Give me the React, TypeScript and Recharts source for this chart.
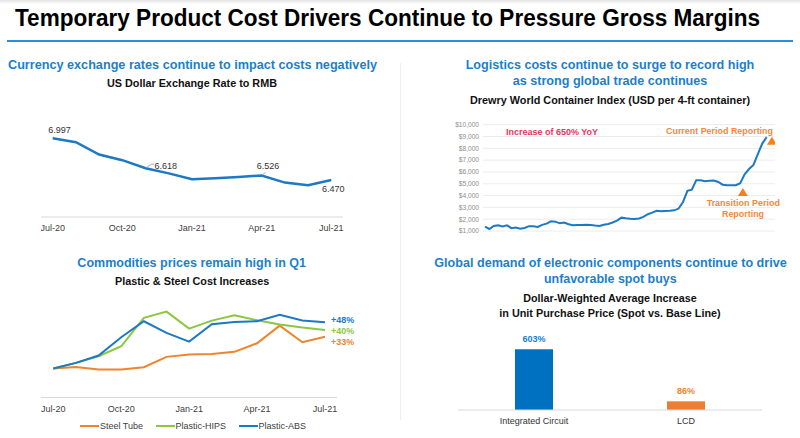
import React from 'react';
import {
  LineChart,
  Line,
  XAxis,
  YAxis,
  CartesianGrid,
  BarChart,
  Bar,
  ReferenceDot,
} from 'recharts';

// ---------------- DATA ----------------
const months = ['Jul-20', 'Aug-20', 'Sep-20', 'Oct-20', 'Nov-20', 'Dec-20', 'Jan-21', 'Feb-21', 'Mar-21', 'Apr-21', 'May-21', 'Jun-21', 'Jul-21'];
const usdRmb = [6.997, 6.948, 6.791, 6.72, 6.618, 6.553, 6.478, 6.491, 6.507, 6.526, 6.436, 6.404, 6.47];

const steelTube = [0, 1.7, -1.0, -1.0, 1.4, 12.1, 14.5, 15.2, 17.3, 26.2, 44.5, 27.3, 33];
const plasticHips = [0, 5.9, 12.8, 23.1, 52.5, 59.0, 41.4, 49.7, 55.2, 50.1, 45.6, 42.5, 40];
const plasticAbs = [0, 5.9, 13.5, 32.5, 49.0, 36.9, 27.9, 45.9, 48.3, 49.0, 55.6, 49.7, 48];
const commodityEndLabels = ['+33%', '+40%', '+48%'];

const wciUsd = [
  1365, 1170, 1420, 1480, 1380, 1480, 1240, 1300, 1200, 1260,
  1410, 1400, 1340, 1520, 1620, 1820, 1790, 1650, 1720, 1570,
  1490, 1500, 1510, 1530, 1500, 1460, 1430, 1530, 1600, 1720,
  1880, 2130, 2080, 2040, 2010, 2060, 2200, 2420, 2560, 2710,
  2670, 2690, 2710, 2750, 2900, 3460, 4400, 4500, 5300, 5300,
  5220, 5250, 5280, 5150, 4920, 4880, 4870, 4880, 5050, 5800,
  6250, 6600, 7500, 8400, 8950,
];
const wciTicks = [1000, 2000, 3000, 4000, 5000, 6000, 7000, 8000, 9000, 10000];
const wciMarkers = [
  { week: 65.2, usd: 8640 },
  { week: 58.6, usd: 4310 },
];

const componentCategories = ['Integrated Circuit', 'LCD'];
const componentIncrease = [603, 86];

// ---------------- STYLE ----------------
const FONT = '"Liberation Sans", Arial, Helvetica, sans-serif';
const HEAD_BLUE = '#1a7fce';
const LINE_BLUE = '#1b79c6';
const ORANGE = '#f0842c';
const GREEN = '#8dc63f';
const AXIS = '#d9d9d9';
const TICK = '#404040';

const fxData = months.map((m, i) => ({ month: m, rate: usdRmb[i] }));
const comData = months.map((m, i) => ({ month: m, steel: steelTube[i], hips: plasticHips[i], abs: plasticAbs[i] }));
const wciData = wciUsd.map((v, i) => ({ week: i, usd: v }));
const barData = componentCategories.map((c, i) => ({ name: c, value: componentIncrease[i] }));
const barColors = ['#0070c0', '#ed7d31'];
const barLabelColors = ['#1a7fce', '#f0842c'];

const fxLabelCfg: Record<number, { dx: number; dy: number; leader?: number[] }> = {
  0: { dx: -4.4, dy: -5 },
  4: { dx: 9, dy: 1, leader: [1, -1, 6, -4, 8.5, -4] },
  9: { dx: -5, dy: -6.7, leader: [1, -1, 4, -3] },
  12: { dx: -9.4, dy: 12.4 },
};

const headings = [
  { t: 'Currency exchange rates continue to impact costs negatively', x: 192.5, y: 69, w: 369, s: 12.5, c: HEAD_BLUE },
  { t: 'US Dollar Exchange Rate to RMB', x: 192, y: 87.3, w: 170, s: 10.8, c: '#111' },
  { t: 'Logistics costs continue to surge to record high', x: 610, y: 69, w: 288.6, s: 12.5, c: HEAD_BLUE },
  { t: 'as strong global trade continues', x: 610, y: 85, w: 194.6, s: 12.5, c: HEAD_BLUE },
  { t: 'Drewry World Container Index (USD per 4-ft container)', x: 610, y: 104.3, w: 280, s: 10.8, c: '#111' },
  { t: 'Commodities prices remain high in Q1', x: 191.7, y: 266.7, w: 228.7, s: 12.5, c: HEAD_BLUE },
  { t: 'Plastic & Steel Cost Increases', x: 192.2, y: 285, w: 154.3, s: 10.8, c: '#111' },
  { t: 'Global demand of electronic components continue to drive', x: 610.5, y: 267.3, w: 352.4, s: 12.5, c: HEAD_BLUE },
  { t: 'unfavorable spot buys', x: 610.3, y: 283.3, w: 132.7, s: 12.5, c: HEAD_BLUE },
  { t: 'Dollar-Weighted Average Increase', x: 610, y: 302.3, w: 173.4, s: 10.8, c: '#111' },
  { t: 'in Unit Purchase Price (Spot vs. Base Line)', x: 610, y: 316.7, w: 221.4, s: 10.8, c: '#111' },
];

const annotations = [
  { t: 'Increase of 650% YoY', x: 552, y: 134.5, w: 92, c: '#e8365d' },
  { t: 'Current Period Reporting', x: 719.5, y: 133.5, w: 107, c: '#f5873a' },
  { t: 'Transition Period', x: 743.3, y: 206, w: 73.3, c: '#f5873a' },
  { t: 'Reporting', x: 743, y: 216.7, w: 42, c: '#f5873a' },
];

const legendItems = [
  { name: 'Steel Tube', color: ORANGE },
  { name: 'Plastic-HIPS', color: GREEN },
  { name: 'Plastic-ABS', color: LINE_BLUE },
];

// ---------------- RENDERERS ----------------
const FxDot = (p: any) => {
  const { cx, cy, index, payload } = p;
  const cfg = fxLabelCfg[index];
  if (!cfg) return <g key={`fx-${index}`} />;
  let leader = null;
  if (cfg.leader) {
    const pts: string[] = [];
    for (let k = 0; k < cfg.leader.length; k += 2) pts.push(`${cx + cfg.leader[k]},${cy + cfg.leader[k + 1]}`);
    leader = <polyline points={pts.join(' ')} fill="none" stroke="#a0a0a0" strokeWidth={0.8} />;
  }
  return (
    <g key={`fx-${index}`}>
      {leader}
      <text x={cx + cfg.dx} y={cy + cfg.dy} fontSize={9} fill="#333" fontFamily={FONT}>
        {payload.rate.toFixed(3)}
      </text>
    </g>
  );
};

const makeEndDot = (label: string, color: string, dy: number) => (p: any) => {
  const { cx, cy, index } = p;
  if (index !== months.length - 1) return <g key={`e-${label}-${index}`} />;
  return (
    <text key={`e-${label}-${index}`} x={cx + 6} y={cy + dy} fontSize={9} fontWeight="bold" fill={color} fontFamily={FONT}>
      {label}
    </text>
  );
};

const triangle = (p: any) => {
  const { cx, cy } = p;
  return <path d={`M${cx - 5},${cy + 4} L${cx + 5},${cy + 4} L${cx},${cy - 4} Z`} fill="#f5821f" />;
};

const BarShape = (p: any) => {
  const { x, y, width, height, index, payload } = p;
  return (
    <g>
      <rect x={x} y={y} width={width} height={height} fill={barColors[index]} />
      <text x={x + width / 2} y={y - 7} textAnchor="middle" fontSize={9} fontWeight="bold" fill={barLabelColors[index]} fontFamily={FONT}>
        {`${payload.value}%`}
      </text>
    </g>
  );
};

export default function App() {
  return (
    <div style={{ position: 'absolute', left: 0, top: 0, width: 800, height: 438, background: '#fff', overflow: 'hidden', fontFamily: FONT }}>
      <div style={{ position: 'absolute', left: 0, top: 0, width: 800, height: 4, background: 'linear-gradient(#e2e2e2, #ffffff)' }} />
      <div style={{ position: 'absolute', left: 7, top: 40, width: 786, height: 2, background: '#2b8edb' }} />
      <div style={{ position: 'absolute', left: 399.5, top: 63, width: 1.5, height: 357, background: '#efefef' }} />

      {/* Chart 1: exchange rate */}
      <div style={{ position: 'absolute', left: 41, top: 110 }}>
        <LineChart width={327} height={127} data={fxData} margin={{ top: 12.3, right: 25, bottom: 0, left: 0 }}>
          <XAxis dataKey="month" height={20} interval={2} padding={{ left: 11.7, right: 11.7 }} tickLine={false} axisLine={{ stroke: AXIS }} tick={{ fontSize: 9, fill: TICK }} />
          <YAxis hide domain={[6, 7.2]} />
          <Line type="linear" dataKey="rate" stroke={LINE_BLUE} strokeWidth={2.5} dot={FxDot} activeDot={false} isAnimationActive={false} />
        </LineChart>
      </div>

      {/* Chart 2: Drewry WCI */}
      <div style={{ position: 'absolute', left: 433, top: 118 }}>
        <LineChart width={342} height={118} data={wciData} margin={{ top: 6.7, right: 0, bottom: 5, left: 0 }}>
          <CartesianGrid vertical={false} stroke="#ececec" />
          <XAxis type="number" dataKey="week" domain={[-0.45, 65.9]} hide />
          <YAxis
            width={50}
            domain={[1000, 10000]}
            ticks={wciTicks}
            interval={0}
            tickLine={false}
            axisLine={false}
            tickSize={2}
            tickMargin={2}
            tick={{ fontSize: 6.6, fill: '#8c8c8c' }}
            tickFormatter={(v: number) => `$${v.toLocaleString('en-US')}`}
          />
          <Line type="linear" dataKey="usd" stroke={LINE_BLUE} strokeWidth={2} dot={false} activeDot={false} isAnimationActive={false} />
          {wciMarkers.map((m, i) => (
            <ReferenceDot key={i} x={m.week} y={m.usd} r={5} shape={triangle} ifOverflow="visible" />
          ))}
        </LineChart>
      </div>

      {/* Chart 3: commodities */}
      <div style={{ position: 'absolute', left: 41, top: 290 }}>
        <LineChart width={326} height={127.5} data={comData} margin={{ top: 11, right: 30, bottom: 0, left: 0 }}>
          <XAxis dataKey="month" height={20} interval={2} padding={{ left: 12.3, right: 12 }} tickLine={false} axisLine={{ stroke: AXIS }} tick={{ fontSize: 9, fill: TICK }} />
          <YAxis hide domain={[-30, 70]} />
          <Line type="linear" dataKey="steel" stroke={ORANGE} strokeWidth={2} dot={makeEndDot(commodityEndLabels[0], ORANGE, 8.3)} activeDot={false} isAnimationActive={false} />
          <Line type="linear" dataKey="hips" stroke={GREEN} strokeWidth={2} dot={makeEndDot(commodityEndLabels[1], GREEN, 3.6)} activeDot={false} isAnimationActive={false} />
          <Line type="linear" dataKey="abs" stroke={LINE_BLUE} strokeWidth={2} dot={makeEndDot(commodityEndLabels[2], LINE_BLUE, 0.8)} activeDot={false} isAnimationActive={false} />
        </LineChart>
      </div>

      {/* Legend for chart 3 */}
      <div style={{ position: 'absolute', left: 80, top: 420, height: 12, display: 'flex', alignItems: 'center', gap: 12.5, fontSize: 9, color: TICK, lineHeight: '12px', whiteSpace: 'nowrap' }}>
        {legendItems.map((it) => (
          <div key={it.name} style={{ display: 'flex', alignItems: 'center' }}>
            <div style={{ width: 19, height: 2.5, background: it.color, marginRight: 1 }} />
            <span>{it.name}</span>
          </div>
        ))}
      </div>

      {/* Chart 4: bars */}
      <div style={{ position: 'absolute', left: 458, top: 330 }}>
        <BarChart width={304} height={100} data={barData} margin={{ top: 9.5, right: 0, bottom: 0, left: 0 }} barSize={38}>
          <XAxis dataKey="name" height={20} tickLine={false} axisLine={{ stroke: AXIS }} tick={{ fontSize: 9, fill: '#333' }} />
          <YAxis hide domain={[0, 700]} />
          <Bar dataKey="value" shape={BarShape} isAnimationActive={false} />
        </BarChart>
      </div>

      {/* Text overlay */}
      <svg width={800} height={438} style={{ position: 'absolute', left: 0, top: 0, pointerEvents: 'none' }}>
        <text x={15} y={26} fontSize={23} fontWeight="bold" fill="#000" textLength={745} lengthAdjust="spacingAndGlyphs" fontFamily={FONT}>
          Temporary Product Cost Drivers Continue to Pressure Gross Margins
        </text>
        {headings.map((h) => (
          <text key={h.t} x={h.x} y={h.y} textAnchor="middle" fontSize={h.s} fontWeight="bold" fill={h.c} textLength={h.w} lengthAdjust="spacingAndGlyphs" fontFamily={FONT}>
            {h.t}
          </text>
        ))}
        {annotations.map((a) => (
          <text key={a.t} x={a.x} y={a.y} textAnchor="middle" fontSize={9} fontWeight="bold" fill={a.c} textLength={a.w} lengthAdjust="spacingAndGlyphs" fontFamily={FONT}>
            {a.t}
          </text>
        ))}
      </svg>
    </div>
  );
}
